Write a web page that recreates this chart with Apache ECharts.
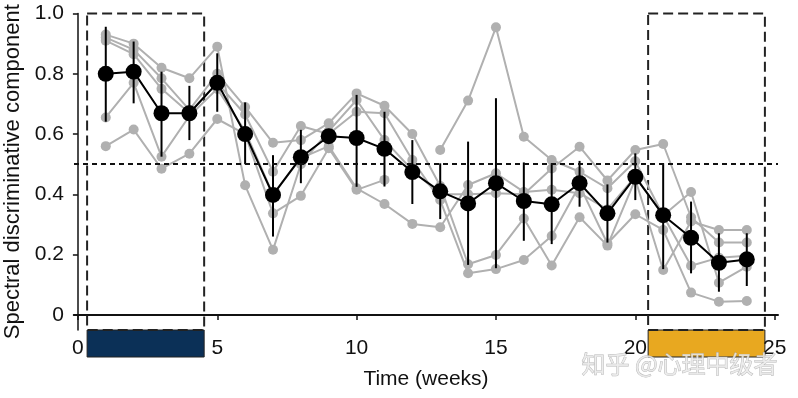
<!DOCTYPE html>
<html>
<head>
<meta charset="utf-8">
<script src="https://cdn.jsdelivr.net/npm/echarts@6/dist/echarts.min.js"></script>
<style>
  html, body { margin: 0; padding: 0; background: #fff; }
  #chart { width: 798px; height: 398px; }
</style>
</head>
<body>
<div id="chart"></div>
<script>
  // weeks 1..24
  const weeks = [1, 2, 3, 4, 5, 6, 7, 8, 9, 10, 11, 12, 13, 14, 15, 16, 17, 18, 19, 20, 21, 22, 23, 24]

  // individual subjects (grey)
  const subjA = [0.93, 0.90, 0.82, 0.785, 0.89, 0.43, 0.216, 0.50, 0.61, 0.713, 0.58, 0.48, 0.40, 0.40, 0.404, 0.40, 0.486, 0.558, 0.446, 0.547, 0.567, 0.324, 0.24, 0.24]
  const subjB = [0.92, 0.88, 0.785, 0.68, 0.80, 0.69, 0.571, 0.58, 0.636, 0.735, 0.694, 0.60, 0.428, 0.168, 0.199, 0.32, 0.164, 0.324, 0.23, 0.45, 0.149, 0.31, 0.282, 0.282]
  const subjC = [0.91, 0.865, 0.75, 0.67, 0.77, 0.665, 0.475, 0.627, 0.60, 0.674, 0.669, 0.514, 0.381, 0.138, 0.152, 0.182, 0.262, 0.43, 0.237, 0.334, 0.282, 0.074, 0.044, 0.046]
  const subjD = [0.655, 0.77, 0.525, 0.66, 0.75, 0.61, 0.40, 0.52, 0.56, 0.42, 0.368, 0.302, 0.291, 0.431, 0.47, 0.408, 0.415, 0.404, 0.35, 0.46, 0.33, 0.408, 0.107, 0.16]
  const subjE = [0.56, 0.615, 0.485, 0.535, 0.65, 0.60, 0.337, 0.395, 0.553, 0.415, 0.448, null, 0.547, 0.711, 0.954, 0.591, 0.514, 0.475, 0.42, 0.51, 0.33, 0.163, 0.19, 0.196]
  const subjects = [subjA, subjB, subjC, subjD, subjE]

  // group mean (black) and error bar ends
  const meanVals = [0.80, 0.807, 0.669, 0.669, 0.770, 0.600, 0.398, 0.523, 0.593, 0.587, 0.551, 0.474, 0.410, 0.370, 0.437, 0.378, 0.367, 0.437, 0.337, 0.458, 0.331, 0.256, 0.173, 0.184]
  const errLow = [0.641, 0.702, 0.525, 0.58, 0.674, 0.50, 0.26, 0.437, 0.569, 0.425, 0.426, 0.368, 0.318, 0.166, 0.155, 0.246, 0.235, 0.359, 0.24, 0.381, 0.152, 0.138, 0.077, 0.096]
  const errHigh = [0.956, 0.907, 0.807, 0.76, 0.868, 0.705, 0.53, 0.614, 0.617, 0.73, 0.674, 0.58, 0.503, 0.575, 0.719, 0.506, 0.503, 0.511, 0.433, 0.536, 0.503, 0.376, 0.271, 0.271]

  // training / test phases (weeks)
  const phases = [[0.33, 4.53], [20.46, 24.65]]
  const phaseColors = ['#0b3057', '#e8a820']

  const xTicks = [0, 5, 10, 15, 20, 25]
  const yTicks = [0, 0.2, 0.4, 0.6, 0.8, 1.0]
  const chanceLevel = 0.5

  const font = 'Liberation Sans, Arial, Helvetica, sans-serif'
  const chart = echarts.init(document.getElementById('chart'))

  const pair = (arr) => weeks.map((w, i) => [w, arr[i] === null ? '-' : arr[i]])

  const greySeries = subjects.map((s, k) => ({
    type: 'line',
    data: pair(s),
    connectNulls: false,
    symbol: 'circle',
    symbolSize: 10,
    lineStyle: { color: '#b0b0b0', width: 2 },
    itemStyle: { color: '#b0b0b0' },
    z: 2,
    markLine: k === 0 ? {
      silent: true,
      symbol: 'none',
      label: { show: false },
      lineStyle: { color: '#111', width: 2, type: [5, 4] },
      data: [{ yAxis: chanceLevel }]
    } : undefined
  }))

  const option = {
    animation: false,
    grid: [
      { left: 74, right: 20, top: 13.5, bottom: 68, outerBoundsMode: 'none', containLabel: false },
      { left: 74, right: 20, top: 330, height: 27, outerBoundsMode: 'none', containLabel: false }
    ],
    xAxis: [{
      type: 'value',
      min: -0.14,
      max: 25.12,
      splitLine: { show: false },
      axisLine: { lineStyle: { color: '#111', width: 2 } },
      axisTick: { customValues: xTicks, length: 5, lineStyle: { color: '#111', width: 1.5 } },
      axisLabel: { customValues: xTicks, color: '#111', fontSize: 21, fontFamily: font, margin: 8 },
      name: 'Time (weeks)',
      nameLocation: 'middle',
      nameGap: 39,
      nameTextStyle: { color: '#111', fontSize: 21, fontFamily: font }
    }, {
      type: 'value', gridIndex: 1, min: -0.14, max: 25.12, show: false
    }],
    yAxis: [{
      type: 'value',
      min: -0.05,
      max: 1.0,
      splitLine: { show: false },
      axisLine: { show: true, lineStyle: { color: '#111', width: 1.5 } },
      axisTick: { show: true, customValues: yTicks, length: 5, lineStyle: { color: '#111', width: 1.5 } },
      axisLabel: {
        customValues: yTicks, color: '#111', fontSize: 21, fontFamily: font, margin: 10,
        formatter: v => v === 0 ? '0' : v.toFixed(1)
      },
      name: 'Spectral discriminative component',
      nameLocation: 'middle',
      nameGap: 42,
      nameTextStyle: { color: '#111', fontSize: 22, fontFamily: font }
    }, {
      type: 'value', gridIndex: 1, min: 0, max: 1, show: false
    }],
    series: [
      // dashed phase boxes
      {
        type: 'custom',
        silent: true,
        clip: false,
        z: 1,
        data: phases,
        renderItem: (params, api) => {
          const p0 = api.coord([api.value(0), 1.0])
          const p1 = api.coord([api.value(1), -0.05])
          return {
            type: 'rect',
            shape: { x: p0[0], y: p0[1], width: p1[0] - p0[0], height: p1[1] - p0[1] },
            style: { fill: 'none', stroke: '#222', lineWidth: 2, lineDash: [10, 5] }
          }
        }
      },
      ...greySeries,
      // error bars
      {
        type: 'custom',
        silent: true,
        z: 3,
        data: weeks.map((w, i) => [w, errLow[i], errHigh[i]]),
        renderItem: (params, api) => {
          const a = api.coord([api.value(0), api.value(1)])
          const b = api.coord([api.value(0), api.value(2)])
          return {
            type: 'line',
            shape: { x1: a[0], y1: a[1], x2: b[0], y2: b[1] },
            style: { stroke: '#000', lineWidth: 2 }
          }
        }
      },
      // mean
      {
        type: 'line',
        data: pair(meanVals),
        symbol: 'circle',
        symbolSize: 16,
        lineStyle: { color: '#000', width: 2 },
        itemStyle: { color: '#000' },
        z: 4
      },
      // coloured phase bars under the axis
      {
        type: 'custom',
        xAxisIndex: 1,
        yAxisIndex: 1,
        silent: true,
        clip: false,
        z: 0,
        data: phases,
        renderItem: (params, api) => {
          const p0 = api.coord([api.value(0), 1])
          const p1 = api.coord([api.value(1), 0])
          return {
            type: 'rect',
            shape: { x: p0[0], y: p0[1], width: p1[0] - p0[0], height: p1[1] - p0[1] },
            style: { fill: phaseColors[params.dataIndex], stroke: '#222', lineWidth: 1 }
          }
        }
      }
    ],
    graphic: [{
      type: 'text',
      right: 20,
      top: 351,
      z: 100,
      style: {
        text: '知乎 @心理中级者',
        fontSize: 24,
        fontFamily: 'Noto Sans CJK SC',
        fill: 'rgba(235,235,235,0.85)',
        stroke: 'rgba(150,150,150,0.7)',
        lineWidth: 0.8
      }
    }]
  }

  chart.setOption(option)
</script>
</body>
</html>
